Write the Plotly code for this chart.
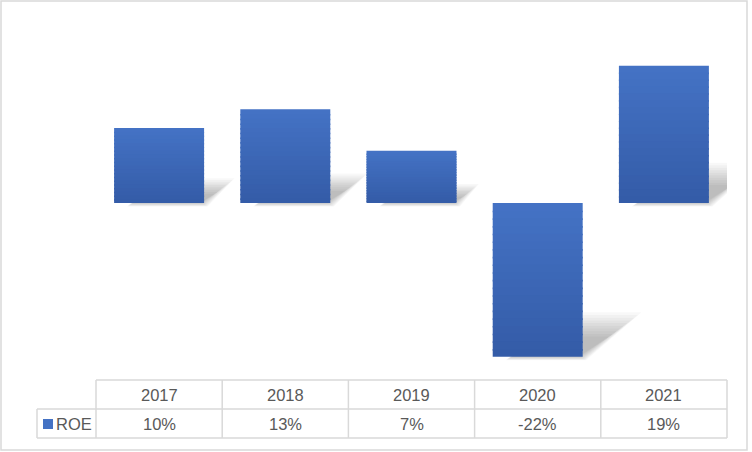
import plotly.graph_objects as go

# ---- data ----
years = ["2017", "2018", "2019", "2020", "2021"]
roe_values = [10.5, 13.1, 7.3, -21.5, 19.2]          # percent
roe_labels = ["10%", "13%", "7%", "-22%", "19%"]     # table labels as shown
series_name = "ROE"

W, H = 752, 452
FONT = "Liberation Sans"
TXT = "#595959"
GRID = "#d9d9d9"

# plot area in pixels
px_left, px_right = 96, 727
px_top, px_bottom = 20, 370
zero_px = 203
scale = 7.15  # px per percent
y_top = (zero_px - px_top) / scale
y_bot = -(px_bottom - zero_px) / scale

xs = list(range(len(years)))
bar_w = 0.713
ppx = (px_right - px_left) / len(years)  # px per x unit

fig = go.Figure()

# ---- soft perspective shadows (base axes, beneath bars) ----
L = 10
for j in range(L):
    f = j / (L - 1)
    blur = 7 * (1 - f) - 1
    shrink = 1 - 0.45 * f
    for i, v in enumerate(roe_values):
        top = max(v, 0)
        bot = min(v, 0)
        h = top - bot
        dh = 0.25 * h * shrink
        dx = 0.36 * h * scale / ppx * shrink
        bl = blur / ppx
        by = blur / scale
        xl = i - bar_w / 2 + 0.15
        xr = i + bar_w / 2 - 0.02
        sx = [xl - bl, xr + bl, xr + dx + bl, xl + dx - bl, xl - bl]
        sy = [bot - by * 0.6, bot - by * 0.6, bot + dh + by, bot + dh + by, bot - by * 0.6]
        fig.add_trace(go.Scatter(
            x=sx, y=sy, fill="toself", mode="lines",
            line=dict(width=0), fillcolor="rgba(0,0,0,0.028)",
            hoverinfo="skip", showlegend=False, xaxis="x", yaxis="y"))

# ---- gradient bars (overlay axes), slices with small overlap ----
N = 20
c_top = (68, 114, 196)
c_bot = (52, 92, 168)
eps = 1.6 / scale
for k in range(N):
    t = k / (N - 1)
    col = "rgb(%d,%d,%d)" % tuple(round(a + (b - a) * t) for a, b in zip(c_top, c_bot))
    bases, lens = [], []
    for v in roe_values:
        top = max(v, 0)
        bot = min(v, 0)
        h = top - bot
        s_top = top - k * h / N
        s_bot = top - (k + 1) * h / N
        if k < N - 1:
            s_bot = max(s_bot - eps, bot)
        bases.append(s_bot)
        lens.append(s_top - s_bot)
    fig.add_trace(go.Bar(
        x=xs, y=lens, base=bases, width=bar_w,
        marker=dict(color=col, line=dict(width=0)),
        name=series_name, showlegend=False, hoverinfo="skip",
        xaxis="x2", yaxis="y2"))

dom_x = [px_left / W, px_right / W]
dom_y = [1 - px_bottom / H, 1 - px_top / H]
ax_common = dict(visible=False, fixedrange=True)
fig.update_layout(
    width=W, height=H,
    margin=dict(l=0, r=0, t=0, b=0),
    paper_bgcolor="white", plot_bgcolor="rgba(0,0,0,0)",
    barmode="overlay",
    xaxis=dict(domain=dom_x, range=[-0.5, len(years) - 0.5], **ax_common),
    yaxis=dict(domain=dom_y, range=[y_bot, y_top], **ax_common),
    xaxis2=dict(domain=dom_x, range=[-0.5, len(years) - 0.5], overlaying="x", **ax_common),
    yaxis2=dict(domain=dom_y, range=[y_bot, y_top], overlaying="y", **ax_common),
    showlegend=False,
)

# ---- data table ----
def px(xp):
    return xp / W

def py(yp):
    return 1 - yp / H

shapes = []
line = dict(color=GRID, width=1.5)
row0, row1, row2 = 380, 409, 438
label_left = 37
col_edges = [px_left + ppx * i for i in range(len(years) + 1)]
shapes.append(dict(type="line", xref="paper", yref="paper", x0=px(px_left), x1=px(px_right), y0=py(row0), y1=py(row0), line=line))
for r in (row1, row2):
    shapes.append(dict(type="line", xref="paper", yref="paper", x0=px(label_left), x1=px(px_right), y0=py(r), y1=py(r), line=line))
shapes.append(dict(type="line", xref="paper", yref="paper", x0=px(label_left), x1=px(label_left), y0=py(row1), y1=py(row2), line=line))
for ce in col_edges:
    shapes.append(dict(type="line", xref="paper", yref="paper", x0=px(ce), x1=px(ce), y0=py(row0), y1=py(row2), line=line))
# legend key
shapes.append(dict(type="rect", xref="paper", yref="paper", x0=px(43), x1=px(53), y0=py(429), y1=py(419),
                   fillcolor="#4472C4", line=dict(width=0)))
# chart border
shapes.append(dict(type="rect", xref="paper", yref="paper", x0=px(1), x1=px(747), y0=py(450), y1=py(1),
                   line=dict(color=GRID, width=1.5), fillcolor="rgba(0,0,0,0)"))

annotations = []
font = dict(family=FONT, size=16.5, color=TXT)
for i, (yr, lab) in enumerate(zip(years, roe_labels)):
    cx = px(px_left + ppx * (i + 0.5))
    annotations.append(dict(x=cx, y=py((row0 + row1) / 2), xref="paper", yref="paper", text=yr,
                            showarrow=False, font=font, xanchor="center", yanchor="middle"))
    annotations.append(dict(x=cx, y=py((row1 + row2) / 2), xref="paper", yref="paper", text=lab,
                            showarrow=False, font=font, xanchor="center", yanchor="middle"))
annotations.append(dict(x=px(56), y=py((row1 + row2) / 2), xref="paper", yref="paper", text=series_name,
                        showarrow=False, font=font, xanchor="left", yanchor="middle", xshift=-2))

fig.update_layout(shapes=shapes, annotations=annotations)
fig.write_html("out.html", config={"displayModeBar": False})
